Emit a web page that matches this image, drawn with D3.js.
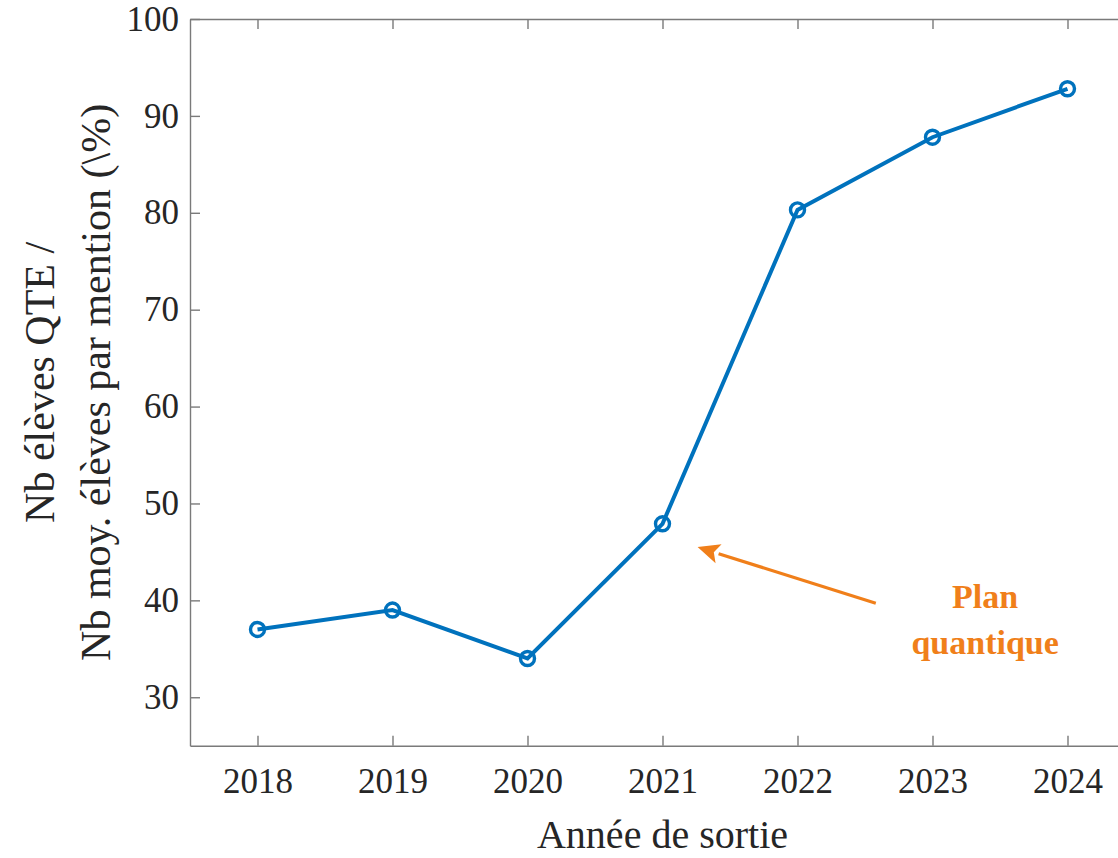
<!DOCTYPE html>
<html lang="fr">
<head>
<meta charset="UTF-8">
<title>Nb élèves QTE</title>
<script src="https://d3js.org/d3.v7.min.js"></script>
<style>
    body { margin: 0; background: #fff; }
    text { font-family: "Liberation Serif", "Times New Roman", serif; fill: #262626; }
    .axis path, .axis line { stroke: #7a7a7a; stroke-width: 1.4px; }
</style>
</head>
<body>
<svg id="chart" width="1118" height="858"></svg>
<script>
// data
const years = [2018, 2019, 2020, 2021, 2022, 2023, 2024];
const ratio = [37, 39, 34, 47.9, 80.3, 87.8, 92.8];
const yTicks = [30, 40, 50, 60, 70, 80, 90, 100];
const noteLines = ["Plan", "quantique"];
// annotation arrow in data units: tail then head
const arrowFrom = [2022.58, 39.7];
const arrowTo = [2021.26, 45.5];

const svg = d3.select("#chart");
const mLeft = 190, mTop = 19, mBottom = 745.7;

const x = d3.scaleLinear().domain([2017.5, 2024.5]).range([mLeft, mLeft + 7 * 135]);
const y = d3.scaleLinear().domain([25, 100]).range([mBottom, mTop]);

// axes (ticks pointing inward like matlab)
const xAxis = svg.append("g").attr("class", "axis")
    .attr("transform", `translate(0,${mBottom})`)
    .call(d3.axisBottom(x).tickValues(years).tickFormat(d3.format("d")).tickSizeInner(-10).tickSizeOuter(0).tickPadding(22));
xAxis.selectAll("text").style("font-size", "35px");

svg.append("g").attr("class", "axis")
    .attr("transform", `translate(0,${mTop})`)
    .call(d3.axisTop(x).tickValues(years).tickFormat("").tickSizeInner(-10).tickSizeOuter(0));

const yAxis = svg.append("g").attr("class", "axis")
    .attr("transform", `translate(${mLeft},0)`)
    .call(d3.axisLeft(y).tickValues(yTicks).tickSizeInner(-10).tickSizeOuter(0).tickPadding(11));
yAxis.selectAll("text").style("font-size", "35px");

// line + circle markers
const pts = years.map((yr, i) => [yr, ratio[i]]);
svg.append("path")
    .datum(pts)
    .attr("fill", "none")
    .attr("stroke", "#0072BD")
    .attr("stroke-width", 4)
    .attr("d", d3.line().x(d => x(d[0])).y(d => y(d[1])));

svg.selectAll("circle.mk")
    .data(pts)
    .enter().append("circle")
    .attr("class", "mk")
    .attr("cx", d => x(d[0]))
    .attr("cy", d => y(d[1]))
    .attr("r", 7)
    .attr("fill", "none")
    .attr("stroke", "#0072BD")
    .attr("stroke-width", 3.4);

// arrow annotation
const orange = "#F07F1A";
const x1 = x(arrowFrom[0]), y1 = y(arrowFrom[1]);
const x2 = x(arrowTo[0]), y2 = y(arrowTo[1]);
const ang = Math.atan2(y2 - y1, x2 - x1);
const hl = 22, hw = 10;
const bx = x2 - hl * Math.cos(ang), by = y2 - hl * Math.sin(ang);
svg.append("line")
    .attr("x1", x1).attr("y1", y1)
    .attr("x2", bx).attr("y2", by)
    .attr("stroke", orange).attr("stroke-width", 3.2);
svg.append("path")
    .attr("fill", orange)
    .attr("d", `M${x2},${y2}L${bx + hw * Math.sin(ang)},${by - hw * Math.cos(ang)}L${bx + 5 * Math.cos(ang)},${by + 5 * Math.sin(ang)}L${bx - hw * Math.sin(ang)},${by + hw * Math.cos(ang)}Z`);

svg.append("g").selectAll("text")
    .data(noteLines)
    .enter().append("text")
    .attr("x", x(2023.39))
    .attr("y", (d, i) => 608 + i * 46)
    .attr("text-anchor", "middle")
    .style("font-size", "34px")
    .style("font-weight", "bold")
    .style("fill", orange)
    .text(d => d);

// axis titles
svg.append("text")
    .attr("x", x(2021))
    .attr("y", 848)
    .attr("text-anchor", "middle")
    .style("font-size", "40px")
    .text("Année de sortie");

const ylab = svg.append("text")
    .attr("transform", `translate(0,${(mTop + mBottom) / 2}) rotate(-90)`)
    .attr("text-anchor", "middle")
    .style("font-size", "42px");
ylab.append("tspan").attr("x", 0).attr("y", 54).text("Nb élèves QTE /");
ylab.append("tspan").attr("x", 0).attr("y", 110).text("Nb moy. élèves par mention (\\%)");
</script>
</body>
</html>
